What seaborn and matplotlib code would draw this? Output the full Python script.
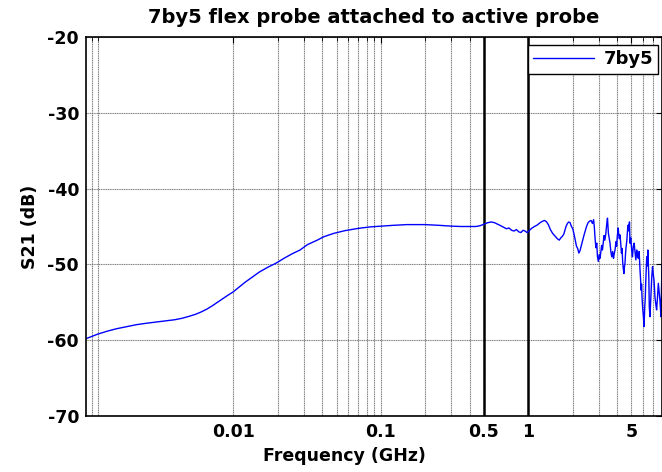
import numpy as np
import pandas as pd
import matplotlib
matplotlib.use("Agg")
import matplotlib.pyplot as plt
from matplotlib.ticker import FixedLocator, FixedFormatter, NullFormatter
import seaborn as sns

# Measured insertion loss of the 7by5 flex probe on the active probe
freq_ghz = [
    # low-frequency roll-up
    0.001, 0.0012, 0.0014, 0.0016, 0.0019, 0.0022, 0.0026, 0.003, 0.0035,
    0.004, 0.0045, 0.005, 0.0055, 0.006, 0.0066, 0.0072, 0.0078, 0.0085,
    0.0092, 0.01, 0.011, 0.012, 0.0136, 0.015, 0.017, 0.0194, 0.022, 0.025,
    0.0283, 0.0317, 0.037, 0.041, 0.048, 0.057, 0.07, 0.085, 0.1, 0.12, 0.15,
    0.2, 0.25, 0.3, 0.35, 0.4, 0.44, 0.47, 0.5, 0.53, 0.56, 0.59, 0.62, 0.65,
    0.68, 0.71, 0.74, 0.77, 0.80, 0.83, 0.86, 0.89, 0.92, 0.95, 0.98,
    # resonant region
    1.00, 1.03, 1.06, 1.10, 1.15, 1.20, 1.25, 1.29, 1.33, 1.37, 1.41, 1.46,
    1.52, 1.57, 1.62, 1.66, 1.70, 1.74, 1.77, 1.80, 1.84, 1.88, 1.92, 1.95,
    2.00, 2.04, 2.08, 2.12, 2.16, 2.20, 2.24, 2.28, 2.33, 2.38, 2.43, 2.48,
    2.54, 2.60, 2.66, 2.72, 2.77, 2.80, 2.83, 2.87, 2.91, 2.94, 2.98, 3.03,
    3.06, 3.10, 3.14, 3.18, 3.22, 3.26, 3.30, 3.35, 3.40, 3.44, 3.47, 3.49,
    3.53, 3.58, 3.63, 3.68, 3.73, 3.78, 3.82, 3.87, 3.93, 3.97, 4.01, 4.04,
    4.07, 4.10, 4.14, 4.18, 4.23, 4.28, 4.32, 4.36, 4.40, 4.45, 4.49, 4.52,
    4.56, 4.60, 4.65, 4.69, 4.73, 4.77, 4.81, 4.85, 4.89, 4.95, 5.02, 5.08,
    5.15, 5.22, 5.29, 5.36, 5.43, 5.50, 5.57, 5.64, 5.72, 5.77, 5.81, 5.86,
    5.90, 5.96, 6.03, 6.09, 6.16, 6.21, 6.25, 6.30, 6.35, 6.41, 6.46, 6.51,
    6.56, 6.61, 6.68, 6.75, 6.80, 6.86, 6.95, 7.03, 7.12, 7.22, 7.31, 7.41,
    7.51, 7.61, 7.71, 7.81, 7.93, 8.06,
]
s21_db = [
    -59.8, -59.2, -58.8, -58.5, -58.2, -57.95, -57.75, -57.6, -57.45,
    -57.3, -57.1, -56.85, -56.6, -56.3, -55.9, -55.45, -55.0, -54.5,
    -54.05, -53.6, -52.95, -52.35, -51.6, -51.0, -50.4, -49.85, -49.2, -48.6,
    -48.1, -47.4, -46.8, -46.35, -45.9, -45.55, -45.25, -45.05, -44.95, -44.85, -44.75,
    -44.75, -44.85, -44.95, -45.0, -45.0, -45.0, -44.9, -44.7, -44.5, -44.4, -44.5, -44.7, -44.9,
    -45.1, -45.3, -45.2, -45.5, -45.6, -45.4, -45.7, -45.8, -45.5, -45.6, -45.8,
    -45.7, -45.4, -45.2, -45.0, -44.8, -44.5, -44.3, -44.2, -44.4, -44.8, -45.4, -45.9,
    -46.3, -46.6, -46.8, -46.5, -46.3, -46.0, -45.5, -45.0, -44.6, -44.4, -44.5, -44.9,
    -45.3, -46.0, -46.8, -47.6, -47.9, -48.5, -48.2, -47.6, -46.9, -46.2, -45.6, -45.0,
    -44.5, -44.3, -44.2, -44.6, -44.1, -45.0, -46.4, -47.8, -47.2, -48.9, -49.6, -48.7,
    -49.2, -48.4, -47.5, -48.1, -47.1, -46.2, -46.8, -46.0, -44.7, -43.9, -45.0, -45.9,
    -46.5, -47.2, -48.4, -49.0, -48.3, -49.2, -48.6, -48.1, -47.0, -47.6, -46.3, -45.7,
    -45.2, -46.0, -46.6, -46.1, -47.2, -48.5, -47.9, -49.6, -50.5, -51.2, -50.2, -49.9,
    -48.6, -47.7, -46.9, -45.8, -44.9, -44.8, -45.6, -44.4, -47.2, -46.5, -48.1, -49.0,
    -47.6, -47.2, -48.4, -49.4, -48.1, -48.9, -49.2, -48.3, -50.8, -52.0, -53.4, -52.6,
    -54.3, -55.8, -56.9, -58.2, -55.5, -54.3, -52.4, -50.8, -49.0, -50.2, -48.1, -50.0,
    -51.7, -55.6, -56.9, -55.0, -53.8, -51.9, -50.3, -51.3, -52.1, -54.3, -55.2, -56.0,
    -54.4, -52.5, -53.6, -54.8, -56.9, -49.9,
]
series_name = "7by5"

# Axis ticks and reference markers
major_ticks = [0.01, 0.1, 0.5, 1, 5]
major_labels = ["0.01", "0.1", "0.5", "1", "5"]
minor_ticks = [0.0011, 0.0012, 0.02, 0.03, 0.04, 0.05, 0.06, 0.07, 0.08, 0.09,
               0.2, 0.3, 0.4, 2, 3, 4, 6, 7, 8]
y_ticks = [-70, -60, -50, -40, -30, -20]
band_edges = [0.5, 1]

df = pd.DataFrame({"Frequency": freq_ghz, "S21": s21_db,
                   "Probe": [series_name] * len(freq_ghz)})

sns.set_style("white")
plt.rcParams["font.family"] = ["DejaVu Sans"]
plt.rcParams["font.weight"] = "bold"
plt.rcParams["axes.unicode_minus"] = False
for key in ("text.color", "axes.labelcolor", "xtick.color", "ytick.color"):
    plt.rcParams[key] = "black"

fig = plt.figure(figsize=(6.62, 4.72), dpi=100)
ax = fig.add_axes([86 / 662, 1 - 416 / 472, 576 / 662, 379 / 472])

sns.lineplot(data=df, x="Frequency", y="S21", hue="Probe",
             palette=["#0000ff"], linewidth=1.0, ax=ax, sort=False)

ax.set_xscale("log")
ax.set_xlim(0.001, 8.06)
ax.set_ylim(-70, -20)

ax.xaxis.set_major_locator(FixedLocator(major_ticks))
ax.xaxis.set_major_formatter(FixedFormatter(major_labels))
ax.xaxis.set_minor_locator(FixedLocator(minor_ticks))
ax.xaxis.set_minor_formatter(NullFormatter())
ax.set_yticks(y_ticks)

grid_kw = dict(color="#7a7a7a", linewidth=0.8, linestyle=(0, (1, 0.6)))
ax.grid(True, which="major", axis="both", **grid_kw)
ax.grid(True, which="minor", axis="x", **grid_kw)
ax.set_axisbelow(True)

for edge in band_edges:
    ax.axvline(edge, color="black", linewidth=1.8, zorder=1.5)

ax.tick_params(axis="both", which="both", direction="in", top=True,
               right=True, labelsize=12.5, pad=5, colors="black")
ax.tick_params(which="major", length=4, width=0.8)
ax.tick_params(which="minor", length=3, width=0.6)
for lbl in ax.get_xticklabels() + ax.get_yticklabels():
    lbl.set_fontweight("bold")
    lbl.set_color("black")

for side in ax.spines.values():
    side.set_color("black")
    side.set_linewidth(1.2)

ax.set_title("7by5 flex probe attached to active probe", fontsize=14,
             fontweight="bold", pad=10, color="black")
ax.set_xlabel("Frequency (GHz)", fontsize=12.5, fontweight="bold",
              color="black")
ax.xaxis.set_label_coords(0.448, -0.082)
ax.set_ylabel("S21 (dB)", fontsize=12.5, fontweight="bold", labelpad=6,
              color="black")

leg = ax.legend(loc="upper right", bbox_to_anchor=(0.9939, 0.9789),
                borderaxespad=0, fancybox=False, framealpha=1,
                edgecolor="black", handlelength=3.4, handletextpad=0.5,
                borderpad=0.3, prop={"size": 13, "weight": "bold"})
leg.get_frame().set_linewidth(1.0)
for line in leg.get_lines():
    line.set_linewidth(1.0)
for txt in leg.get_texts():
    txt.set_color("black")

fig.savefig("out.png", dpi=100)
